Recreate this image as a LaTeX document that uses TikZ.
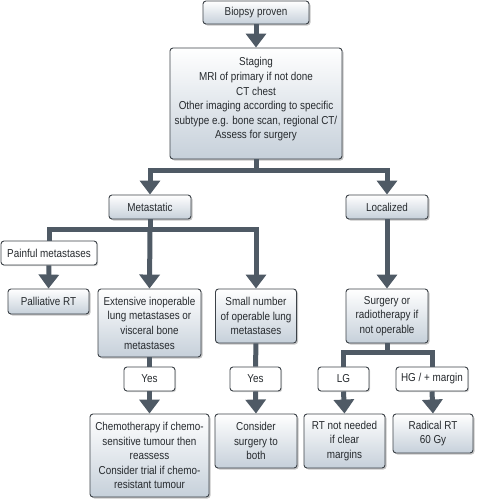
\documentclass[tikz,border=0pt]{standalone}
\usepackage{fontspec}
\setmainfont{Liberation Sans}[FakeStretch=0.86]
\usetikzlibrary{arrows.meta,shadows}
\definecolor{conncol}{HTML}{4F5A65}
\definecolor{boxline}{HTML}{3C4248}
\definecolor{boxbot}{HTML}{C6D0DA}
\definecolor{txtcol}{HTML}{262A2E}
\tikzset{
  box/.style={draw=boxline, line width=0.9pt, rounded corners=3pt, align=center,
    inner sep=2pt, top color=white, bottom color=boxbot, text=txtcol,
    drop shadow={shadow xshift=1.5pt, shadow yshift=-1.5pt, opacity=0.45},
    font=\fontsize{11.5}{14.6}\selectfont},
  wbox/.style={draw=boxline, line width=0.9pt, rounded corners=3pt, align=center,
    inner sep=2pt, fill=white, text=txtcol,
    drop shadow={shadow xshift=1.2pt, shadow yshift=-1.2pt, opacity=0.35},
    font=\fontsize{11.5}{14.6}\selectfont},
  lbl/.style={align=center, inner sep=0pt, text=txtcol,
    font=\fontsize{11.5}{14.6}\selectfont},
  conn/.style={draw=conncol, line width=5pt},
  arr/.style={conn, -{Triangle[width=20pt,length=14pt]}},
  bar/.style={conn, line cap=rect},
}
\begin{document}
\begin{tikzpicture}[x=1pt,y=-1pt]
\useasboundingbox (0,0) rectangle (478,501);
% boxes
\node[box, minimum width=106pt, minimum height=23pt] (bio) at (256,12.5) {Biopsy proven};
\node[box, minimum width=172pt, minimum height=111pt] (stg) at (256,103.5) {};
\node[lbl] (stgtext) at (256,99.5)
  {Staging\\MRI of primary if not done\\CT chest\\Other imaging according to specific\\subtype e.g. bone scan, regional CT/\\Assess for surgery};
\node[box, minimum width=82pt, minimum height=24pt] (meta) at (150,207) {Metastatic};
\node[box, minimum width=82pt, minimum height=24pt] (loc) at (387,207) {Localized};
\node[wbox, minimum width=96pt, minimum height=24pt] (pain) at (49,253) {Painful metastases};
\node[box, minimum width=81pt, minimum height=25pt] (pall) at (48.5,301.5) {Palliative RT};
\node[box, minimum width=103pt, minimum height=68pt] (ext) at (149.5,323)
  {Extensive inoperable\\lung metastases or\\visceral bone\\metastases};
\node[box, minimum width=81pt, minimum height=54pt] (small) at (256,316)
  {Small number\\of operable lung\\metastases};
\node[box, minimum width=82pt, minimum height=54pt] (surg) at (387,316)
  {Surgery or\\radiotherapy if\\not operable};
\node[wbox, minimum width=51pt, minimum height=24pt] (yes1) at (149.5,379) {Yes};
\node[wbox, minimum width=51pt, minimum height=24pt] (yes2) at (255.5,379) {Yes};
\node[wbox, minimum width=51pt, minimum height=24pt] (lg) at (343.5,379) {LG};
\node[wbox, minimum width=72pt, minimum height=24pt] (hg) at (432,379) {HG / + margin};
\node[box, minimum width=119pt, minimum height=83pt] (chemo) at (149.5,455.5)
  {Chemotherapy if chemo-\\sensitive tumour then\\reassess\\Consider trial if chemo-\\resistant tumour};
\node[box, minimum width=82pt, minimum height=54pt] (cons) at (256,441)
  {Consider\\surgery to\\both};
\node[box, minimum width=81pt, minimum height=54pt] (rtn) at (344.5,441)
  {RT not needed\\if clear\\margins};
\node[box, minimum width=80pt, minimum height=39pt] (rad) at (433,433.5)
  {Radical RT\\60 Gy};
% junction coordinates
\coordinate (j1) at (256,170);
\coordinate (j2) at (150,229);
\coordinate (j3) at (387,352);
% connectors
\draw[arr] (bio.south) -- (stg.north);
\draw[conn] (stg.south) -- (j1);
\draw[bar] (j1 -| meta.north) -- (j1 -| loc.north);
\draw[arr] (j1 -| meta.north) -- (meta.north);
\draw[arr] (j1 -| loc.north) -- (loc.north);
\draw[conn] (meta.south) -- (j2);
\draw[bar] (j2 -| pain.north) -- (j2 -| small.north);
\draw[conn] (j2 -| pain.north) -- (pain.north);
\draw[arr] (j2) -- (ext.north);
\draw[arr] (j2 -| small.north) -- (small.north);
\draw[arr] (pain.south) -- (pall.north);
\draw[arr] (loc.south) -- (surg.north);
\draw[conn] (ext.south) -- (yes1.north);
\draw[arr] (yes1.south) -- (chemo.north);
\draw[conn] (small.south) -- (yes2.north);
\draw[arr] (yes2.south) -- (cons.north);
\draw[conn] (surg.south) -- (j3);
\draw[bar] (j3 -| lg.north) -- (j3 -| hg.north);
\draw[conn] (j3 -| lg.north) -- (lg.north);
\draw[conn] (j3 -| hg.north) -- (hg.north);
\draw[arr] (lg.south) -- (rtn.north);
\draw[arr] (hg.south) -- (rad.north);
\end{tikzpicture}
\end{document}
